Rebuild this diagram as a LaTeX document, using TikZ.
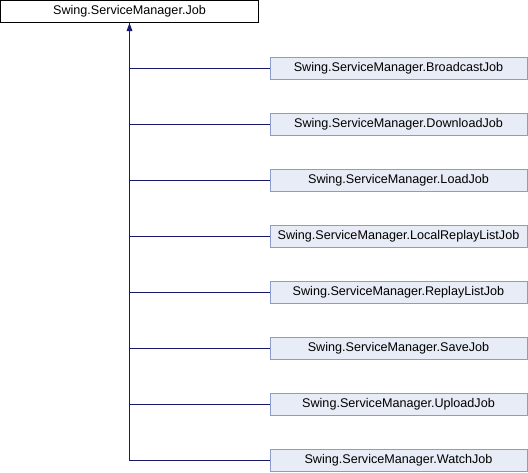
\documentclass[tikz,border=0pt]{standalone}
\usepackage{fontspec}
\setmainfont{Liberation Sans}
\usetikzlibrary{arrows.meta}
\definecolor{boxfill}{HTML}{E8ECF6}
\definecolor{boxline}{HTML}{8C9CC8}
\definecolor{edgecol}{HTML}{191970}
\begin{document}
\begin{tikzpicture}[x=1pt,y=-1pt,
  base/.style={draw=black,fill=white,line width=1pt,minimum width=258pt,minimum height=22pt,inner sep=0pt,font=\fontsize{12.6}{14}\selectfont},
  child/.style={draw=boxline,fill=boxfill,line width=1pt,minimum width=257pt,minimum height=22pt,inner sep=0pt,font=\fontsize{12.6}{14}\selectfont},
  edge/.style={draw=edgecol,line width=1pt}]
\useasboundingbox (0,0) rectangle (528,472);
\node[base] (job) at (129.5,11.5) {Swing.ServiceManager.Job};
\node[child] (c1) at (398.5,68.5) {Swing.ServiceManager.BroadcastJob};
\node[child] (c2) at (398.5,124.5) {Swing.ServiceManager.DownloadJob};
\node[child] (c3) at (398.5,180.5) {Swing.ServiceManager.LoadJob};
\node[child] (c4) at (398.5,236.5) {Swing.ServiceManager.LocalReplayListJob};
\node[child] (c5) at (398.5,292.5) {Swing.ServiceManager.ReplayListJob};
\node[child] (c6) at (398.5,348.5) {Swing.ServiceManager.SaveJob};
\node[child] (c7) at (398.5,404.5) {Swing.ServiceManager.UploadJob};
\node[child] (c8) at (398.5,460.5) {Swing.ServiceManager.WatchJob};
\coordinate (bot) at (129.5,460.5);
\draw[edge] (bot) -- (job.south);
\fill[edgecol] (job.south) -- ++(-3,8) -- ++(6,0) -- cycle;
\foreach \c in {c1,c2,c3,c4,c5,c6,c7,c8}{
  \draw[edge] (\c.west) -- (\c.west -| bot);
}
\end{tikzpicture}
\end{document}
